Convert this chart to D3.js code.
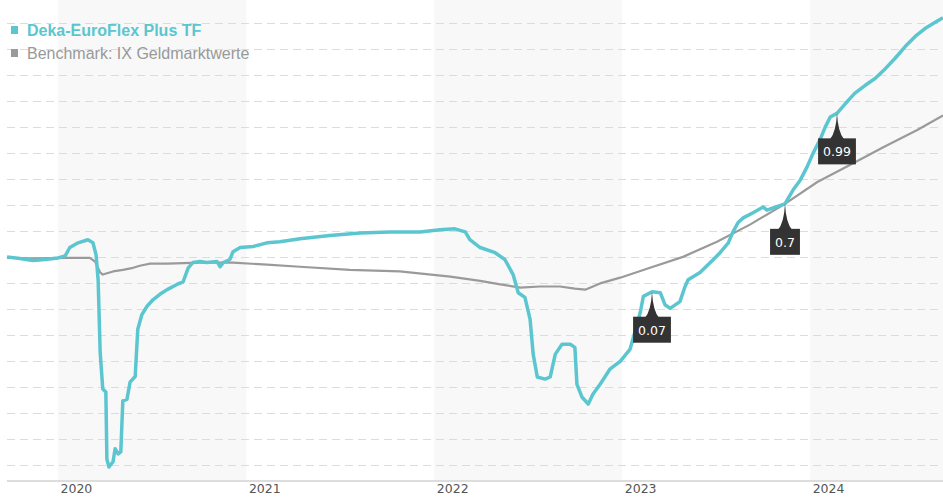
<!DOCTYPE html>
<html>
<head>
<meta charset="utf-8">
<script src="https://cdn.jsdelivr.net/npm/d3@7"></script>
<style>
  body { margin: 0; background: #fff; }
</style>
</head>
<body>
<script>
// fund vs benchmark, index values

const fundDates = [
  "2019-09-24", "2019-10-19", "2019-11-13", "2019-12-07", "2020-01-01", "2020-01-15",
  "2020-01-24", "2020-02-09", "2020-02-28", "2020-03-09", "2020-03-15", "2020-03-19",
  "2020-03-23", "2020-03-28", "2020-04-03", "2020-04-05", "2020-04-09", "2020-04-17",
  "2020-04-21", "2020-04-27", "2020-05-02", "2020-05-06", "2020-05-14", "2020-05-20",
  "2020-05-30", "2020-06-04", "2020-06-12", "2020-06-22", "2020-07-04", "2020-07-17",
  "2020-07-31", "2020-08-19", "2020-08-31", "2020-09-10", "2020-09-19", "2020-10-03",
  "2020-10-16", "2020-11-05", "2020-11-11", "2020-11-17", "2020-11-30", "2020-12-06",
  "2020-12-20", "2021-01-14", "2021-02-10", "2021-03-07", "2021-04-15", "2021-06-12",
  "2021-08-10", "2021-10-07", "2021-12-04", "2022-01-12", "2022-02-10", "2022-03-02",
  "2022-03-11", "2022-03-31", "2022-04-29", "2022-05-18", "2022-06-03", "2022-06-13",
  "2022-06-26", "2022-07-06", "2022-07-12", "2022-07-20", "2022-08-04", "2022-08-14",
  "2022-08-24", "2022-09-06", "2022-09-22", "2022-10-01", "2022-10-05", "2022-10-15",
  "2022-10-27", "2022-11-05", "2022-11-19", "2022-12-08", "2022-12-28", "2023-01-16",
  "2023-02-05", "2023-02-11", "2023-02-28", "2023-03-16", "2023-03-25", "2023-04-04",
  "2023-04-23", "2023-05-03", "2023-05-09", "2023-06-01", "2023-06-27", "2023-07-10",
  "2023-07-26", "2023-08-04", "2023-08-14", "2023-08-24", "2023-09-12", "2023-10-02",
  "2023-10-09", "2023-10-21", "2023-11-13", "2023-11-29", "2023-12-13", "2023-12-26",
  "2024-01-07", "2024-01-20", "2024-01-30", "2024-02-09", "2024-02-22", "2024-03-15",
  "2024-03-28", "2024-04-17", "2024-05-06", "2024-05-26", "2024-06-14", "2024-07-04",
  "2024-07-23", "2024-08-11", "2024-08-31", "2024-09-15"
];

const fundValues = [
  104.00, 103.97, 103.93, 103.95, 103.98, 104.02,
  104.18, 104.27, 104.33, 104.27, 104.04, 103.56,
  102.16, 101.46, 101.40, 100.11, 99.96, 100.06,
  100.31, 100.21, 100.25, 101.23, 101.26, 101.59,
  101.70, 102.61, 102.89, 103.05, 103.18, 103.28,
  103.37, 103.47, 103.52, 103.79, 103.89, 103.91,
  103.89, 103.91, 103.81, 103.89, 103.95, 104.10,
  104.18, 104.20, 104.27, 104.29, 104.35, 104.41,
  104.46, 104.48, 104.48, 104.52, 104.54, 104.48,
  104.33, 104.18, 104.08, 103.95, 103.66, 103.31,
  103.22, 102.80, 102.13, 101.69, 101.65, 101.69,
  102.13, 102.32, 102.32, 102.26, 101.55, 101.30,
  101.17, 101.36, 101.55, 101.84, 101.99, 102.22,
  102.93, 103.24, 103.33, 103.31, 103.08, 103.01,
  103.14, 103.43, 103.56, 103.70, 103.95, 104.08,
  104.27, 104.48, 104.66, 104.75, 104.85, 104.96,
  104.90, 104.94, 105.02, 105.29, 105.48, 105.73,
  106.00, 106.25, 106.49, 106.69, 106.76, 107.01,
  107.15, 107.30, 107.43, 107.62, 107.82, 108.05,
  108.24, 108.39, 108.51, 108.60
];

const benchDates = [
  "2019-09-24", "2019-11-13", "2020-01-18", "2020-03-03", "2020-03-13", "2020-03-23",
  "2020-03-28", "2020-04-17", "2020-05-06", "2020-05-26", "2020-06-08", "2020-06-28",
  "2020-07-31", "2020-10-03", "2020-12-06", "2021-02-10", "2021-04-15", "2021-07-21",
  "2021-10-26", "2022-02-01", "2022-03-31", "2022-05-09", "2022-06-17", "2022-07-25",
  "2022-09-02", "2022-10-01", "2022-10-21", "2022-11-19", "2022-12-28", "2023-02-24",
  "2023-04-29", "2023-07-04", "2023-09-06", "2023-11-10", "2024-01-15", "2024-03-19",
  "2024-05-22", "2024-07-27", "2024-09-15"
];

const benchValues = [
  103.98, 103.97, 103.98, 103.98, 103.91, 103.70,
  103.66, 103.72, 103.75, 103.79, 103.83, 103.87,
  103.87, 103.89, 103.89, 103.85, 103.81, 103.75,
  103.72, 103.62, 103.54, 103.47, 103.41, 103.43,
  103.43, 103.39, 103.37, 103.49, 103.60, 103.79,
  104.00, 104.29, 104.62, 105.00, 105.44, 105.77,
  106.11, 106.44, 106.72
];

// payout markers sitting on the fund line
const markerDates = ["2023-02-28", "2023-11-13", "2024-02-22"];
const markerLabels = ["0.07", "0.7", "0.99"];

const yearTicks = ["2020", "2021", "2022", "2023", "2024"];
const seriesNames = ["Deka-EuroFlex Plus TF", "Benchmark: IX Geldmarktwerte"];

const teal = "#5bc6cf";
const grey = "#9a9a9a";

const width = 943;
const height = 500;
const left = 7;
const right = 943;
const bottom = 481;

const parse = d3.timeParse("%Y-%m-%d");

const fund = fundDates.map((d, i) => ({ date: parse(d), value: fundValues[i] }));
const bench = benchDates.map((d, i) => ({ date: parse(d), value: benchValues[i] }));

const svg = d3.select("body").append("svg")
    .attr("width", width)
    .attr("height", height);

const x = d3.scaleTime()
    .domain([parse("2019-09-24"), parse("2024-09-15")])
    .range([left, right]);

const y = d3.scaleLinear()
    .domain([99.69, 108.94])
    .range([bottom, 0]);

// light bands behind every other year
const years = yearTicks.map(t => parse(t + "-01-01"));
svg.append("g")
  .selectAll("rect")
  .data(years.filter((d, i) => i % 2 === 0))
  .join("rect")
    .attr("x", d => x(d))
    .attr("y", 0)
    .attr("width", d => Math.min(x(d3.timeYear.offset(d, 1)), right) - x(d))
    .attr("height", bottom)
    .style("fill", "#f8f8f8");

// dashed horizontal grid
svg.append("g")
  .selectAll("line")
  .data(d3.range(100, 108.51, 0.5))
  .join("line")
    .attr("x1", left)
    .attr("x2", right)
    .attr("y1", d => Math.round(y(d)) + 0.5)
    .attr("y2", d => Math.round(y(d)) + 0.5)
    .style("stroke", "#dcdcdc")
    .style("stroke-width", 1)
    .style("stroke-dasharray", "8,5");

// x axis: base line and year labels just right of each year start
const xAxis = svg.append("g")
    .attr("transform", `translate(0,${bottom})`)
    .call(d3.axisBottom(x).tickValues(years).tickFormat(d3.timeFormat("%Y")).tickSize(0));

xAxis.select(".domain")
    .attr("d", `M${left},0H${right}`)
    .style("stroke", "#dddddd")
    .style("stroke-width", 2);

xAxis.selectAll("text")
    .attr("text-anchor", "start")
    .attr("x", 2)
    .attr("y", 12)
    .attr("dy", 0)
    .style("font-family", "DejaVu Sans")
    .style("font-size", "12.5px")
    .style("fill", "#555");

const line = d3.line()
    .x(d => x(d.date))
    .y(d => y(d.value));

svg.append("path")
    .datum(bench)
    .attr("d", line)
    .style("fill", "none")
    .style("stroke", grey)
    .style("stroke-width", 2.2)
    .style("stroke-linejoin", "round");

svg.append("path")
    .datum(fund)
    .attr("d", line)
    .style("fill", "none")
    .style("stroke", teal)
    .style("stroke-width", 3.5)
    .style("stroke-linejoin", "round");

// markers: dark spike pointing at the line, box with the number below it
const bisect = d3.bisector(d => d.date).left;
function fundAt(date) {
  const i = bisect(fund, date);
  if (i <= 0) return fund[0].value;
  const a = fund[i - 1], b = fund[i];
  const t = (date - a.date) / (b.date - a.date);
  return a.value + (b.value - a.value) * t;
}

markerDates.forEach((d, i) => {
  const date = parse(d);
  const mx = Math.round(x(date));
  const my = y(fundAt(date));
  const boxTop = my + 25;

  const g = svg.append("g");

  const label = g.append("text")
      .text(markerLabels[i])
      .attr("x", mx)
      .attr("y", boxTop + 18)
      .attr("text-anchor", "middle")
      .style("font-family", "DejaVu Sans")
      .style("font-size", "12.5px")
      .style("fill", "#ffffff");

  const w = label.node().getComputedTextLength() + 10;

  g.insert("path", "text")
      .attr("d", `M${mx},${my} Q${mx + 1},${boxTop - 6} ${mx + 7},${boxTop + 1} L${mx - 7},${boxTop + 1} Q${mx - 1},${boxTop - 6} ${mx},${my} Z`)
      .style("fill", "#333333");

  g.insert("rect", "text")
      .attr("x", mx - w / 2)
      .attr("y", boxTop)
      .attr("width", w)
      .attr("height", 26)
      .style("fill", "#333333");
});

// legend in the top left corner
const legend = svg.append("g");
const legendColors = [teal, grey];
seriesNames.forEach((name, i) => {
  legend.append("rect")
      .attr("x", 11)
      .attr("y", 26 + i * 23)
      .attr("width", 7)
      .attr("height", 8)
      .style("fill", legendColors[i]);

  legend.append("text")
      .text(name)
      .attr("x", 27)
      .attr("y", 36 + i * 23)
      .style("font-family", "Liberation Sans, Arial, sans-serif")
      .style("font-size", "16px")
      .style("font-weight", i === 0 ? "bold" : "normal")
      .style("fill", i === 0 ? teal : "#999999");
});
</script>
</body>
</html>
